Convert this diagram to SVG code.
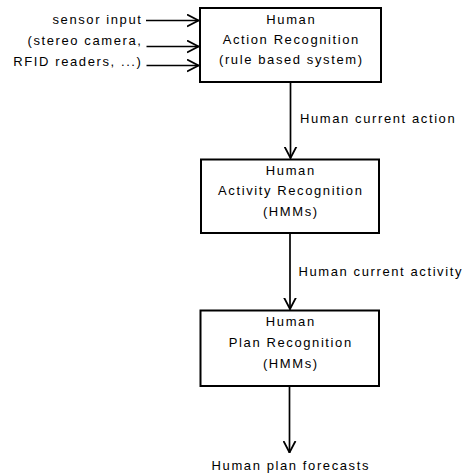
<svg xmlns="http://www.w3.org/2000/svg" width="471" height="475" viewBox="0 0 471 475">
<defs>
<style>
text{font-family:"Liberation Sans",Arial,sans-serif;font-size:13px;letter-spacing:1.6px;fill:#000}
.c{text-anchor:middle}
.e{text-anchor:end}
.box{fill:#fff;stroke:#000;stroke-width:2}
.ln{fill:none;stroke:#000;stroke-width:1.7}
</style>
<marker id="ah" viewBox="0 0 12 14" refX="12" refY="7" markerWidth="12" markerHeight="14" markerUnits="userSpaceOnUse" orient="auto">
<path d="M0,1 L11.5,7 L0,13" fill="none" stroke="#000" stroke-width="1.8"/>
</marker>
</defs>
<rect width="471" height="475" fill="#fff"/>
<g id="connectors">
<line class="ln" x1="146" y1="20.5" x2="199" y2="20.5" marker-end="url(#ah)"/>
<line class="ln" x1="146.5" y1="46.5" x2="199" y2="46.5" marker-end="url(#ah)"/>
<line class="ln" x1="146.5" y1="65.5" x2="199" y2="65.5" marker-end="url(#ah)"/>
<line class="ln" x1="290.5" y1="83" x2="290.5" y2="158.5" marker-end="url(#ah)"/>
<line class="ln" x1="290" y1="234" x2="290" y2="309.5" marker-end="url(#ah)"/>
<line class="ln" x1="289.5" y1="387" x2="289.5" y2="453" marker-end="url(#ah)"/>
<text x="300" y="122.5">Human current action</text>
<text x="298.5" y="276">Human current activity</text>
<text class="c" x="290.8" y="470">Human plan forecasts</text>
</g>
<g id="inputs">
<text class="e" x="142.5" y="24">sensor input</text>
<text class="e" x="142.5" y="45">(stereo camera,</text>
<text class="e" x="142.5" y="65.5">RFID readers, ...)</text>
</g>
<g id="action">
<rect class="box" x="200" y="8" width="181" height="74"/>
<text class="c" x="291.3" y="23.5">Human</text>
<text class="c" x="291.3" y="43.5">Action Recognition</text>
<text class="c" x="291.3" y="64">(rule based system)</text>
</g>
<g id="activity">
<rect class="box" x="201" y="159.5" width="178" height="73.5"/>
<text class="c" x="290.8" y="174.5">Human</text>
<text class="c" x="290.8" y="195">Activity Recognition</text>
<text class="c" x="290.8" y="215.5">(HMMs)</text>
</g>
<g id="plan">
<rect class="box" x="200.5" y="310.5" width="178.5" height="75.5"/>
<text class="c" x="290.8" y="325.5">Human</text>
<text class="c" x="290.8" y="346.5">Plan Recognition</text>
<text class="c" x="290.8" y="367.5">(HMMs)</text>
</g>
</svg>
